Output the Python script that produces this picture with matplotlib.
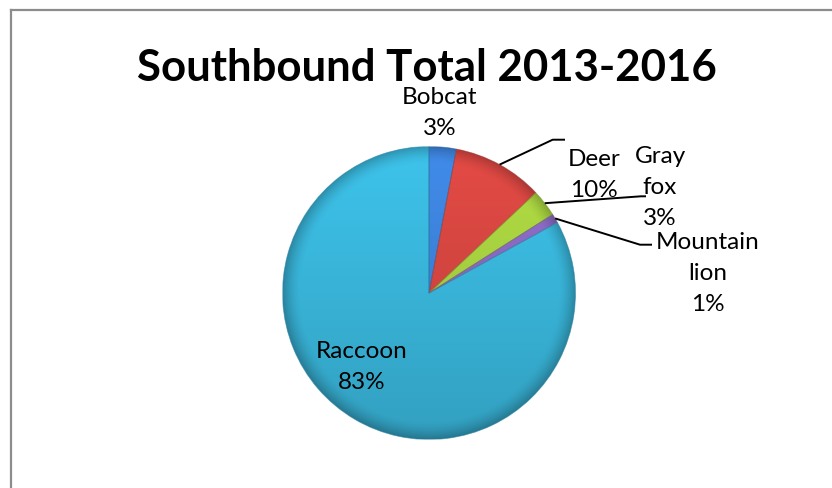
import numpy as np
import matplotlib
matplotlib.use("Agg")
import matplotlib.pyplot as plt
from matplotlib.colors import to_rgb
from matplotlib.lines import Line2D

# Southbound crossings, 2013-2016, share per species (%)
species = ["Bobcat", "Deer", "Gray fox", "Mountain lion", "Raccoon"]
shares = [3, 10, 3, 1, 83]
label_lines = [["Bobcat"], ["Deer"], ["Gray", "fox"], ["Mountain", "lion"], ["Raccoon"]]
colors = ["#3b7fd5", "#d0443f", "#a3cc3e", "#8566bd", "#38b2d6"]

W, H, DPI = 832, 489, 100
CX, CY, R = 429, 294, 146.5  # pie centre / radius in pixels

plt.rcParams["font.family"] = ["Lato", "DejaVu Sans"]

fig = plt.figure(figsize=(W / DPI, H / DPI), dpi=DPI)
fig.patch.set_facecolor("white")

# frame around the chart area (continues past the right and bottom edges)
fig.add_artist(Line2D([11 / W, 11 / W], [0, 1 - 11 / H], color="#8c8c8c", lw=1.6,
                      transform=fig.transFigure))
fig.add_artist(Line2D([11 / W, 1], [1 - 11 / H, 1 - 11 / H], color="#8c8c8c", lw=1.6,
                      transform=fig.transFigure))

ax = fig.add_axes([(CX - R) / W, 1 - (CY + R) / H, 2 * R / W, 2 * R / H])

wedges, _ = ax.pie(shares, colors=colors, startangle=90, counterclock=False,
                   radius=1, wedgeprops=dict(linewidth=0.6, edgecolor="#2a6f86"))
ax.set_xlim(-1, 1)
ax.set_ylim(-1, 1)
ax.set_aspect("equal")
ax.axis("off")

# bevel-style shading: lighter toward the top, darker toward the rim
n = 500
gx, gy = np.meshgrid(np.linspace(-1, 1, n), np.linspace(1, -1, n))
rr = np.hypot(gx, gy)
shade = 1.0 + 0.10 * gy
shade *= 1 - 0.25 * np.clip((rr - 0.88) / 0.12, 0, 1) ** 1.6
for w, c in zip(wedges, colors):
    rgb = np.array(to_rgb(c))
    img = np.clip(rgb[None, None, :] * shade[..., None], 0, 1)
    im = ax.imshow(img, extent=(-1, 1, -1, 1), zorder=w.get_zorder() + 0.1,
                   interpolation="bilinear")
    im.set_clip_path(w)
    w.set_zorder(w.get_zorder() + 0.2)
    w.set_facecolor("none")
    w.set_edgecolor((*np.clip(rgb * 0.75, 0, 1), 0.6))
ax.set_xlim(-1, 1)
ax.set_ylim(-1, 1)


def px2data(px, py):
    return (px - CX) / R, (CY - py) / R


# label text centres (pixels) and leader elbows (pixels) for each slice
label_pos = [(440, 98), (594, 160), (660, 157), (708, 243), (362, 352)]
elbows = [None, [(552.7, 140.7), (565, 140.7)], [(641, 197.3), (646, 197.3)],
          [(640, 245.7), (652, 245.7)], None]
LINE = 31.0
FS = 17.5

cum = 0
for i, (name, v) in enumerate(zip(species, shares)):
    a0 = 90 - cum * 3.6
    a1 = 90 - (cum + v) * 3.6
    cum += v
    mid = np.deg2rad((a0 + a1) / 2)
    lines = label_lines[i] + [f"{v}%"]
    lx, ly = label_pos[i]
    for k, t in enumerate(lines):
        dx, dy = px2data(lx, ly + k * LINE)
        ax.text(dx, dy, t, ha="center", va="center", fontsize=FS, color="black",
                zorder=10, clip_on=False)
    if elbows[i] is not None:
        pts = [(np.cos(mid), np.sin(mid))] + [px2data(*p) for p in elbows[i]]
        xs, ys = zip(*pts)
        ax.plot(xs, ys, color="black", lw=1.4, zorder=9, clip_on=False,
                solid_capstyle="butt")

fig.text(427 / W, 1 - 68 / H, "Southbound Total 2013-2016", ha="center", va="center",
         fontsize=31.5, fontweight="bold", color="black")

fig.savefig("out.png", dpi=DPI, facecolor="white")
